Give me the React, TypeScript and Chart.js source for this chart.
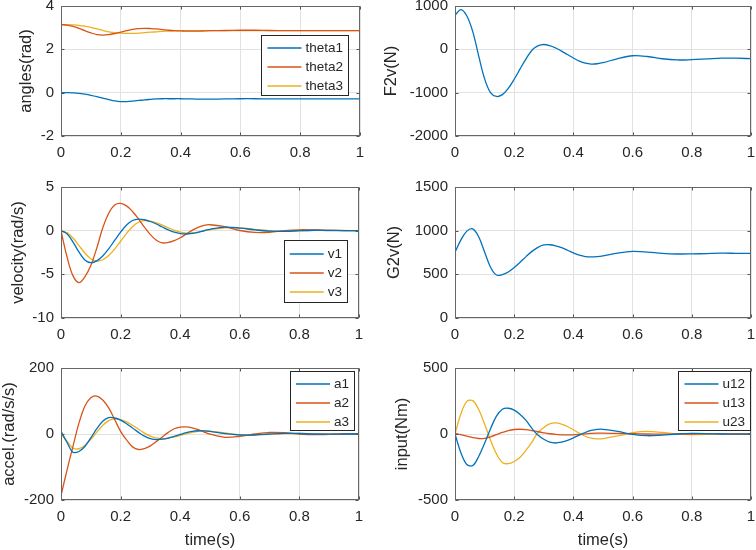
import React, { useEffect, useRef } from 'react';
import { Chart, registerables } from 'chart.js';

Chart.register(...registerables);

// ---------- data ----------
const T = [0, 0.02, 0.04, 0.06, 0.08, 0.1, 0.12, 0.14, 0.16, 0.18, 0.2, 0.22, 0.24, 0.26, 0.28, 0.3, 0.32, 0.34, 0.36, 0.38, 0.4, 0.42, 0.44, 0.46, 0.48, 0.5, 0.55, 0.6, 0.65, 0.7, 0.75, 0.8, 0.85, 0.9, 0.95, 1];

const THETA1 = [0, 0, -0.01, -0.03, -0.07, -0.12, -0.18, -0.25, -0.32, -0.38, -0.41, -0.41, -0.39, -0.36, -0.33, -0.31, -0.29, -0.28, -0.28, -0.28, -0.28, -0.29, -0.29, -0.3, -0.3, -0.3, -0.29, -0.28, -0.28, -0.29, -0.29, -0.29, -0.29, -0.29, -0.29, -0.29];
const THETA2 = [3.14, 3.12, 3.06, 2.97, 2.86, 2.76, 2.68, 2.66, 2.68, 2.73, 2.79, 2.86, 2.92, 2.96, 2.97, 2.96, 2.94, 2.91, 2.88, 2.86, 2.85, 2.84, 2.84, 2.84, 2.85, 2.86, 2.87, 2.88, 2.88, 2.87, 2.86, 2.86, 2.86, 2.86, 2.86, 2.86];
const THETA3 = [3.14, 3.14, 3.13, 3.11, 3.07, 3.01, 2.94, 2.87, 2.81, 2.77, 2.75, 2.74, 2.74, 2.75, 2.77, 2.79, 2.81, 2.83, 2.84, 2.85, 2.86, 2.86, 2.86, 2.86, 2.86, 2.86, 2.86, 2.86, 2.86, 2.86, 2.86, 2.86, 2.86, 2.86, 2.86, 2.86];

const F2V = [780, 918, 770, 410, -150, -680, -1000, -1088, -1045, -900, -690, -450, -220, -20, 80, 112, 85, 30, -40, -120, -200, -270, -320, -340, -333, -309, -212, -148, -165, -217, -245, -238, -222, -205, -205, -215];

const V1 = [0, -0.36, -1.29, -2.44, -3.35, -3.67, -3.46, -2.9, -2.08, -1.12, -0.17, 0.64, 1.16, 1.33, 1.25, 1.05, 0.76, 0.42, 0.09, -0.18, -0.34, -0.38, -0.32, -0.185, -0.01, 0.16, 0.4, 0.3, 0.1, -0.05, -0.08, 0, 0.05, 0.04, 0.01, 0];
const V2 = [0, -2.98, -5.15, -5.95, -5.3, -4.0, -2.0, 0.3, 2.0, 2.95, 3.13, 2.84, 2.2, 1.34, 0.4, -0.46, -1.1, -1.4, -1.35, -1.14, -0.81, -0.39, 0.03, 0.38, 0.61, 0.68, 0.45, 0.02, -0.2, -0.18, 0, 0.1, 0.08, 0.02, 0, 0];
const V3 = [0, -0.23, -0.84, -1.69, -2.56, -3.21, -3.47, -3.33, -2.85, -2.11, -1.21, -0.31, 0.46, 0.96, 1.15, 1.08, 0.9, 0.63, 0.32, 0.04, -0.18, -0.28, -0.26, -0.16, -0.02, 0.1, 0.32, 0.32, 0.15, 0, -0.06, -0.03, 0.03, 0.04, 0.02, 0];

const G2V = [752, 895, 995, 1020, 931, 756, 581, 492, 497, 527, 577, 638, 703, 763, 809, 836, 839, 827, 805, 776, 745, 719, 703, 699, 703, 712, 743, 762, 755, 740, 733, 734, 738, 742, 741, 740];

const A1 = [8, -25, -55, -53, -38, -12, 16, 38.5, 49.5, 48.5, 42, 31, 18, 5, -6.6, -14, -17, -15.8, -12.3, -7.2, -1.5, 3.9, 8, 9.8, 9.7, 8, 1, -3, -3, 0, 2, 1.5, 0, -0.5, 0, 0];
const A2 = [-187, -110, -38, 32, 84, 110, 115, 103, 79, 44, 8, -18, -39, -47, -44, -36, -23, -9, 5, 16, 21, 21.5, 18.5, 13, 6, -0.4, -10, -7, 0, 5, 4, 0, -2, -1, 0, 0];
const A3 = [0, -22, -43, -44.7, -34.5, -16, 5.6, 26, 40.7, 46, 43.6, 36.7, 26.4, 14.5, 2.8, -6.7, -12.6, -14, -12.4, -9, -4.4, 0.6, 5, 8, 9, 8.5, 3, -2, -3, -1, 1, 1.5, 0.5, -0.5, 0, 0];

const U12 = [0, -142, -231, -239, -170, -70, 40, 135, 188, 195, 181, 148.5, 103, 42, -8, -40, -62, -68, -61, -48, -29, -8, 11.5, 26.7, 35, 35.5, 20, -3, -13, -8, 0, 4, 3, 0, -1, 0];
const U13 = [5, -5, -16, -27, -34, -33, -22, -5, 12, 26, 34, 36, 33, 26, 17, 9, 2, -3, -6, -7, -6, -3, 1, 4, 6, 7, 5, 2, 0, -1, -1, 0, 1, 1, 0, 0];
const U23 = [0, 153, 247, 253, 185, 75, -45, -150, -215, -225, -208, -176, -122.5, -61, 10, 50, 77, 84, 75, 57, 32, 6, -17, -32, -37, -35, -15, 10, 20, 12, 0, -4, -3, 0, 1, 0];

const X_TICKS = [0, 0.2, 0.4, 0.6, 0.8, 1];
const ANGLE_TICKS = [-2, 0, 2, 4];
const F2V_TICKS = [-2000, -1000, 0, 1000];
const VEL_TICKS = [-10, -5, 0, 5];
const G2V_TICKS = [0, 500, 1000, 1500];
const ACC_TICKS = [-200, 0, 200];
const INPUT_TICKS = [-500, 0, 500];

const COLORS = ['#0072BD', '#D95319', '#EDB120'];
const FONT = '"Liberation Sans", Arial, Helvetica, sans-serif';
const TEXT = '#262626';

type Series = { label: string; data: number[] };
type Panel = {
  left: number; plotL: number; plotT: number; plotR: number; plotB: number;
  yTitle: string; yTicks: number[]; series: Series[];
  legend?: { right: number; top: number; h: number };
  xTitle?: string;
};

const PANELS: Panel[] = [
  { left: 17, plotL: 61, plotT: 6, plotR: 360, plotB: 136, yTitle: 'angles(rad)', yTicks: ANGLE_TICKS,
    series: [{ label: 'theta1', data: THETA1 }, { label: 'theta2', data: THETA2 }, { label: 'theta3', data: THETA3 }],
    legend: { right: 349, top: 34.5, h: 61 } },
  { left: 382, plotL: 455, plotT: 6, plotR: 751, plotB: 136, yTitle: 'F2v(N)', yTicks: F2V_TICKS,
    series: [{ label: 'F2v', data: F2V }] },
  { left: 9, plotL: 61, plotT: 187, plotR: 359, plotB: 318, yTitle: 'velocity(rad/s)', yTicks: VEL_TICKS,
    series: [{ label: 'v1', data: V1 }, { label: 'v2', data: V2 }, { label: 'v3', data: V3 }],
    legend: { right: 348, top: 239.5, h: 63 } },
  { left: 385, plotL: 455, plotT: 187, plotR: 751, plotB: 318, yTitle: 'G2v(N)', yTicks: G2V_TICKS,
    series: [{ label: 'G2v', data: G2V }] },
  { left: 0, plotL: 61, plotT: 368, plotR: 359, plotB: 500, yTitle: 'accel.(rad/s/s)', yTicks: ACC_TICKS,
    series: [{ label: 'a1', data: A1 }, { label: 'a2', data: A2 }, { label: 'a3', data: A3 }],
    legend: { right: 355, top: 371, h: 60 }, xTitle: 'time(s)' },
  { left: 393, plotL: 455, plotT: 368, plotR: 751, plotB: 500, yTitle: 'input(Nm)', yTicks: INPUT_TICKS,
    series: [{ label: 'u12', data: U12 }, { label: 'u13', data: U13 }, { label: 'u23', data: U23 }],
    legend: { right: 751, top: 371, h: 60 }, xTitle: 'time(s)' },
];

// layout paddings larger than Chart.js's own label overflow so the plot box lands exactly
const PAD_TOP = 20;
const PAD_RIGHT = 16;

function geom(p: Panel) {
  const top = p.plotT - PAD_TOP;
  const width = p.plotR + PAD_RIGHT - p.left;
  const xh = p.xTitle ? 550 - p.plotB : 30;
  const height = p.plotB + xh - top;
  return { top, width, height, xh, yw: p.plotL - p.left };
}

function makePlugin(p: Panel, canvasTop: number) {
  return {
    id: 'matlabFrame',
    afterDraw(chart: any) {
      const { ctx, chartArea: a, scales } = chart;
      ctx.save();
      const L = Math.round(a.left) + 0.5;
      const R = Math.round(a.right) - 0.5;
      const Tp = Math.round(a.top) + 0.5;
      const B = Math.round(a.bottom) - 0.5;
      ctx.strokeStyle = '#555555';
      ctx.lineWidth = 1;
      ctx.beginPath();
      X_TICKS.forEach((v) => {
        const x = Math.round(scales.x.getPixelForValue(v)) + 0.5;
        ctx.moveTo(x, B); ctx.lineTo(x, B - 3);
        ctx.moveTo(x, Tp); ctx.lineTo(x, Tp + 3);
      });
      p.yTicks.forEach((v) => {
        const y = Math.round(scales.y.getPixelForValue(v)) + 0.5;
        ctx.moveTo(L, y); ctx.lineTo(L + 3, y);
        ctx.moveTo(R, y); ctx.lineTo(R - 3, y);
      });
      ctx.stroke();
      ctx.strokeStyle = '#666666';
      ctx.strokeRect(L, Tp, R - L, B - Tp);

      const lg = p.legend;
      if (lg) {
        ctx.font = `13.5px ${FONT}`;
        const labels: string[] = chart.data.datasets.map((d: any) => d.label);
        const tw = Math.max(...labels.map((l) => ctx.measureText(l).width));
        const w = 6 + 34 + 4 + tw + 6;
        const x1 = lg.right - p.left;
        const x0 = x1 - w;
        const y0 = lg.top - canvasTop;
        ctx.fillStyle = '#ffffff';
        ctx.fillRect(x0, y0, w, lg.h);
        ctx.strokeStyle = '#262626';
        ctx.lineWidth = 1;
        ctx.strokeRect(Math.round(x0) + 0.5, Math.round(y0) + 0.5, Math.round(w) - 1, Math.round(lg.h) - 1);
        const n = labels.length;
        labels.forEach((l, i) => {
          const y = y0 + lg.h / 2 + 2 + (i - (n - 1) / 2) * 19;
          ctx.strokeStyle = COLORS[i];
          ctx.lineWidth = 1.3;
          ctx.beginPath();
          ctx.moveTo(x0 + 6, y);
          ctx.lineTo(x0 + 40, y);
          ctx.stroke();
          ctx.fillStyle = TEXT;
          ctx.textBaseline = 'middle';
          ctx.textAlign = 'left';
          ctx.fillText(l, x0 + 44, y);
        });
      }
      ctx.restore();
    },
  };
}

function PanelChart({ p }: { p: Panel }) {
  const ref = useRef<HTMLCanvasElement | null>(null);
  const g = geom(p);
  useEffect(() => {
    if (!ref.current) return;
    const yMin = p.yTicks[0];
    const yMax = p.yTicks[p.yTicks.length - 1];
    const chart = new Chart(ref.current, {
      type: 'line',
      data: {
        datasets: p.series.map((s, i) => ({
          label: s.label,
          data: T.map((t, j) => ({ x: t, y: s.data[j] })),
          borderColor: COLORS[i],
          backgroundColor: COLORS[i],
          borderWidth: 1.3,
          pointRadius: 0,
          fill: false,
          tension: 0.35,
        })),
      },
      options: {
        animation: false,
        responsive: false,
        maintainAspectRatio: false,
        devicePixelRatio: 1,
        layout: { padding: { top: PAD_TOP, right: PAD_RIGHT, left: 0, bottom: 0 } },
        plugins: { legend: { display: false }, tooltip: { enabled: false } },
        scales: {
          x: {
            type: 'linear',
            min: 0,
            max: 1,
            afterBuildTicks: (s: any) => { s.ticks = X_TICKS.map((v) => ({ value: v })); },
            afterFit: (s: any) => { s.height = g.xh; },
            ticks: {
              callback: (v: any) => String(v),
              color: TEXT,
              font: { size: 15, family: FONT },
              padding: 8,
              maxRotation: 0,
              autoSkip: false,
            },
            grid: { color: '#e2e2e2', lineWidth: 1, drawTicks: false },
            border: { display: false },
            title: p.xTitle
              ? { display: true, text: p.xTitle, color: TEXT, font: { size: 16.5, family: FONT }, padding: { top: 0, bottom: 0 } }
              : { display: false },
          },
          y: {
            type: 'linear',
            min: yMin,
            max: yMax,
            afterBuildTicks: (s: any) => { s.ticks = p.yTicks.map((v) => ({ value: v })); },
            afterFit: (s: any) => { s.width = g.yw; },
            ticks: {
              callback: (v: any) => String(v),
              color: TEXT,
              font: { size: 15, family: FONT },
              padding: 7,
              autoSkip: false,
            },
            grid: { color: '#e2e2e2', lineWidth: 1, drawTicks: false },
            border: { display: false },
            title: { display: true, text: p.yTitle, color: TEXT, font: { size: 16.5, family: FONT }, padding: { top: 0, bottom: 0 } },
          },
        },
      } as any,
      plugins: [makePlugin(p, g.top)],
    });
    return () => chart.destroy();
  }, []);
  return (
    <canvas
      ref={ref}
      width={g.width}
      height={g.height}
      style={{ position: 'absolute', left: p.left, top: g.top, width: g.width, height: g.height }}
    />
  );
}

export default function App() {
  return (
    <div style={{ position: 'fixed', left: 0, top: 0, width: 756, height: 550, background: '#ffffff', overflow: 'hidden' }}>
      {PANELS.map((p, i) => <PanelChart key={i} p={p} />)}
    </div>
  );
}
